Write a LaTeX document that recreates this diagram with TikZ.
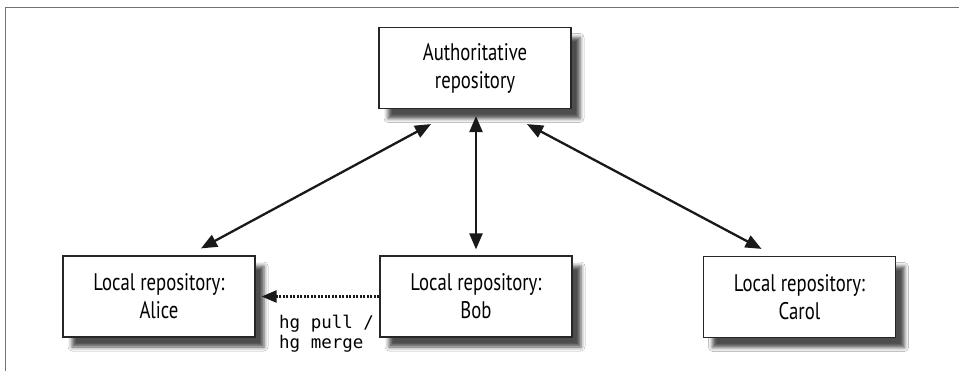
\documentclass[tikz,border=0pt]{standalone}
\usepackage{fontspec}
\setmainfont{PT Sans}[FakeStretch=0.78]
\newfontfamily\codefont{DejaVu Sans Mono}
\usetikzlibrary{arrows.meta,shadows,shadows.blur,calc}
\begin{document}
\begin{tikzpicture}[x=1pt,y=-1pt,
  repo/.style={draw=black!85, line width=1.2pt, fill=white, minimum width=192pt, minimum height=81pt,
    align=center, inner sep=0pt, font=\fontsize{24}{28}\selectfont,
    blur shadow={shadow xshift=9pt, shadow yshift=-10pt, shadow blur radius=4pt, shadow opacity=70}},
  link/.style={line width=2.3pt, black!90, {Triangle[length=16pt,width=13pt]}-{Triangle[length=16pt,width=13pt]}},
  pull/.style={line width=2.4pt, black!90, dash pattern=on 2pt off 1.5pt, -{Triangle[length=15pt,width=12pt]}},
  cmd/.style={font=\codefont\fontsize{17.5}{20}\selectfont, align=left, inner sep=0pt, anchor=north west}]
\useasboundingbox (0,0) rectangle (959,371);
\fill[white] (0,0) rectangle (959,371);
\draw[line width=1.8pt, black!55] (5.5,371) -- (5.5,7.5) -- (959,7.5);

\node[repo] (auth) at (475,68) {Authoritative\\repository};
\node[repo] (alice) at (159,296.5) {Local repository:\\Alice};
\node[repo] (bob) at (476,296.5) {Local repository:\\Bob};
\node[repo] (carol) at (799.5,297) {Local repository:\\Carol};

\coordinate (aL) at ($(auth.south)+(-44,15)$);
\coordinate (aM) at ($(auth.south)+(1,7)$);
\coordinate (aR) at ($(auth.south)+(52,15)$);
\coordinate (alTop) at ($(alice.north)+(42,-7)$);
\coordinate (boTop) at ($(bob.north)+(0,-6)$);
\coordinate (caTop) at ($(carol.north)+(-38,-7)$);
\coordinate (alR) at ($(alice.east)+(6,0)$);

\draw[link] (alTop) -- (aL);
\draw[link] (boTop) -- (aM);
\draw[link] (caTop) -- (aR);
\draw[pull] (bob.west) -- (alR);

\node[cmd] (hg) at (279,315) {hg pull /\\hg merge};
\end{tikzpicture}
\end{document}
